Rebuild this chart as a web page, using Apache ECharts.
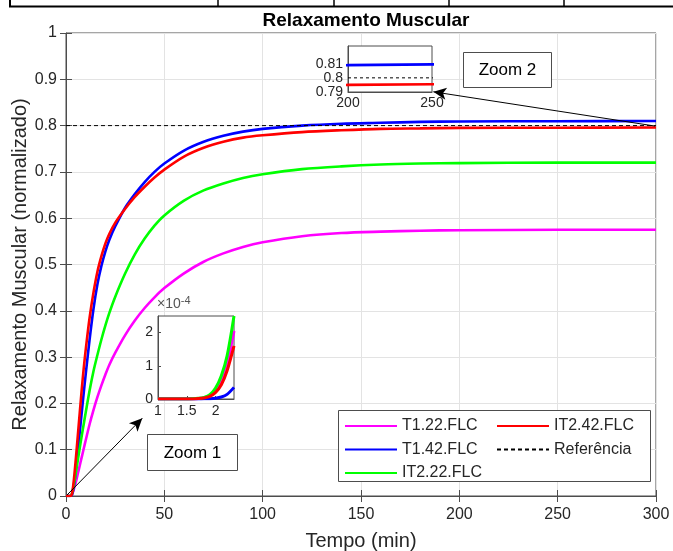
<!DOCTYPE html>
<html>
<head>
<meta charset="utf-8">
<script src="https://cdn.jsdelivr.net/npm/echarts@6/dist/echarts.min.js"></script>
<style>html,body{margin:0;padding:0;background:#fff}#c{width:673px;height:551px}</style>
</head>
<body>
<div id="c"></div>
<script>
// ---- data ----
const tMain = [0,1,2,3,4,5,6,7,8,9,10,12,14,16,18,20,22,25,30,35,40,45,50,60,70,80,90,100,120,140,160,180,200,250,300];
const t122 = [0,0,0.000025,0.003,0.015,0.03,0.048,0.066,0.084,0.102,0.12,0.155,0.186,0.214,0.239,0.262,0.283,0.309,0.347,0.379,0.406,0.429,0.449,0.481,0.506,0.524,0.538,0.548,0.561,0.568,0.571,0.573,0.574,0.575,0.575];
const t142 = [0,0,0.0000025,0.002,0.02,0.055,0.095,0.138,0.18,0.222,0.262,0.338,0.405,0.458,0.497,0.528,0.553,0.582,0.622,0.652,0.678,0.7,0.718,0.746,0.765,0.778,0.787,0.793,0.8,0.804,0.806,0.808,0.809,0.8095,0.81];
const it222 = [0,0,0.000033,0.005,0.025,0.05,0.077,0.104,0.13,0.155,0.18,0.228,0.27,0.305,0.338,0.368,0.395,0.43,0.48,0.522,0.556,0.584,0.606,0.638,0.66,0.675,0.687,0.695,0.706,0.712,0.716,0.718,0.719,0.72,0.72];
const it242 = [0,0,0.00002,0.004,0.035,0.08,0.13,0.18,0.23,0.275,0.315,0.385,0.44,0.485,0.518,0.545,0.566,0.59,0.62,0.646,0.668,0.688,0.705,0.733,0.752,0.765,0.774,0.779,0.786,0.79,0.793,0.794,0.795,0.7955,0.796];
const refX = [0,300];
const refY = [0.8,0.8];
// zoom 1 inset (values in units of 1e-4)
const tZoom = [1,1.2,1.4,1.5,1.6,1.7,1.8,1.9,2.0,2.1,2.2,2.32];
const z122 = [0,0,0,0.001,0.004,0.015,0.04,0.1,0.25,0.55,1.05,2.05];
const z142 = [0,0,0,0,0.0005,0.002,0.005,0.01,0.025,0.06,0.14,0.35];
const z222 = [0,0,0,0.002,0.006,0.02,0.05,0.13,0.33,0.7,1.3,2.5];
const z242 = [0,0,0,0.001,0.003,0.012,0.032,0.08,0.2,0.43,0.85,1.6];
const names = ['T1.22.FLC','T1.42.FLC','IT2.22.FLC','IT2.42.FLC','Referência'];
const colors = ['#FF00FF','#0000FF','#00FF00','#FF0000','#000000'];

const pair = (xs, ys) => xs.map((x,i)=>[x,ys[i]]);
const FONT = 'Liberation Sans, Arial, sans-serif';
const TXT = '#262626';
const AX = '#4d4d4d';
const GRIDC = '#e3e3e3';

const chart = echarts.init(document.getElementById('c'));

function mainSeries(i, data) {
  return {
    name: names[i], type: 'line', xAxisIndex: 0, yAxisIndex: 0,
    data: data, symbol: 'none', smooth: 0.3, z: 2,
    lineStyle: {color: colors[i], width: 2.6}, itemStyle: {color: colors[i]}
  };
}
function legendCfg(data, left) {
  return {data: data, orient: 'vertical', left: left, top: 418, padding: 0,
    itemWidth: 52, itemHeight: 14, itemGap: 7.5, z: 20, selectedMode: false,
    itemStyle: {opacity: 0},
    textStyle: {fontFamily: FONT, fontSize: 16, color: TXT}};
}

const option = {
  animation: false,
  backgroundColor: '#fff',
  textStyle: {fontFamily: FONT},
  title: {
    text: 'Relaxamento Muscular', left: 361, top: 6, textAlign: 'center',
    textStyle: {fontFamily: FONT, fontSize: 19, fontWeight: 'bold', color: '#000'}
  },
  grid: [
    {left: 66, top: 33, width: 590, height: 463, show: true, borderColor: AX, borderWidth: 1, backgroundColor: '#fff', z: 0, outerBoundsMode: 'none', containLabel: false},
    {left: 158, top: 316, width: 76, height: 83, show: true, borderColor: AX, borderWidth: 1, backgroundColor: '#fff', z: 5, outerBoundsMode: 'none', containLabel: false},
    {left: 348, top: 46, width: 84, height: 46, show: true, borderColor: AX, borderWidth: 1, backgroundColor: '#fff', z: 5, outerBoundsMode: 'none', containLabel: false}
  ],
  xAxis: [
    {type: 'value', gridIndex: 0, min: 0, max: 300, interval: 50, position: 'bottom',
     name: 'Tempo (min)', nameLocation: 'middle', nameGap: 35, nameMoveOverlap: false,
     nameTextStyle: {fontFamily: FONT, fontSize: 20, color: TXT},
     axisLine: {show: true, onZero: false, lineStyle: {color: AX}},
     axisTick: {show: true, inside: true, length: 6, lineStyle: {color: AX}},
     axisLabel: {fontFamily: FONT, fontSize: 16, color: TXT, margin: 11},
     splitLine: {show: true, lineStyle: {color: GRIDC}}},
    {type: 'value', gridIndex: 0, min: 0, max: 300, interval: 50, position: 'top',
     axisLine: {show: false}, axisTick: {show: true, inside: true, length: 6, lineStyle: {color: AX}},
     axisLabel: {show: false}, splitLine: {show: false}},
    {type: 'value', gridIndex: 1, min: 1, max: 2.32, z: 6,
     axisLine: {show: true, onZero: false, lineStyle: {color: AX}},
     axisTick: {show: true, inside: true, length: 3, customValues: [1,1.5,2], lineStyle: {color: AX}},
     axisLabel: {fontFamily: FONT, fontSize: 14, color: TXT, margin: 5, customValues: [1,1.5,2]},
     splitLine: {show: false}},
    {type: 'value', gridIndex: 2, min: 200, max: 250, z: 6,
     axisLine: {show: true, onZero: false, lineStyle: {color: AX}},
     axisTick: {show: false},
     axisLabel: {fontFamily: FONT, fontSize: 14, color: TXT, margin: 4, customValues: [200,250]},
     splitLine: {show: false}}
  ],
  yAxis: [
    {type: 'value', gridIndex: 0, min: 0, max: 1, interval: 0.1, position: 'left',
     name: 'Relaxamento Muscular (normalizado)', nameLocation: 'middle', nameGap: 36, nameMoveOverlap: false,
     nameTextStyle: {fontFamily: FONT, fontSize: 20, color: TXT},
     axisLine: {show: true, onZero: false, lineStyle: {color: AX}},
     axisTick: {show: true, inside: true, length: 6, lineStyle: {color: AX}},
     axisLabel: {fontFamily: FONT, fontSize: 16, color: TXT, margin: 9},
     splitLine: {show: true, lineStyle: {color: GRIDC}}},
    {type: 'value', gridIndex: 0, min: 0, max: 1, interval: 0.1, position: 'right',
     axisLine: {show: false}, axisTick: {show: true, inside: true, length: 6, lineStyle: {color: AX}},
     axisLabel: {show: false}, splitLine: {show: false}},
    {type: 'value', gridIndex: 1, min: 0, max: 2.5, z: 6,
     axisLine: {show: true, onZero: false, lineStyle: {color: AX}},
     axisTick: {show: true, inside: true, length: 3, customValues: [0,1,2], lineStyle: {color: AX}},
     axisLabel: {fontFamily: FONT, fontSize: 14, color: TXT, margin: 5, customValues: [0,1,2]},
     splitLine: {show: false}},
    {type: 'value', gridIndex: 2, min: 0.79, max: 0.8225, z: 6,
     axisLine: {show: true, onZero: false, lineStyle: {color: AX}},
     axisTick: {show: false},
     axisLabel: {fontFamily: FONT, fontSize: 14, color: TXT, margin: 5, customValues: [0.79,0.8,0.81],
       formatter: v => String(Math.round(v*100)/100)},
     splitLine: {show: false}}
  ],
  legend: [legendCfg(names.slice(0,3), 344), legendCfg(names.slice(3,5), 496)],
  graphic: {elements: [
    // partial table row at top of figure
    {type: 'line', shape: {x1: 9, y1: 6.5, x2: 673, y2: 6.5}, style: {stroke: '#000', lineWidth: 2}, z: 1},
    {type: 'line', shape: {x1: 10, y1: 0, x2: 10, y2: 7}, style: {stroke: '#000', lineWidth: 2}, z: 1},
    {type: 'line', shape: {x1: 218, y1: 0, x2: 218, y2: 7}, style: {stroke: '#000', lineWidth: 1.5}, z: 1},
    {type: 'line', shape: {x1: 334, y1: 0, x2: 334, y2: 7}, style: {stroke: '#000', lineWidth: 1.5}, z: 1},
    {type: 'line', shape: {x1: 449, y1: 0, x2: 449, y2: 7}, style: {stroke: '#000', lineWidth: 1.5}, z: 1},
    {type: 'line', shape: {x1: 564, y1: 0, x2: 564, y2: 7}, style: {stroke: '#000', lineWidth: 1.5}, z: 1},
    // legend box
    {type: 'rect', shape: {x: 338.5, y: 410.5, width: 312, height: 71}, style: {fill: '#fff', stroke: AX, lineWidth: 1}, z: 10},
    // Zoom text boxes
    {type: 'rect', shape: {x: 147.5, y: 434.5, width: 90, height: 36}, style: {fill: '#fff', stroke: AX, lineWidth: 1}, z: 10},
    {type: 'text', x: 192.5, y: 453, style: {text: 'Zoom 1', fill: '#000', fontFamily: FONT, fontSize: 17, align: 'center', verticalAlign: 'middle'}, z: 11},
    {type: 'rect', shape: {x: 463.5, y: 52.5, width: 88, height: 35}, style: {fill: '#fff', stroke: AX, lineWidth: 1}, z: 10},
    {type: 'text', x: 507.5, y: 70.5, style: {text: 'Zoom 2', fill: '#000', fontFamily: FONT, fontSize: 17, align: 'center', verticalAlign: 'middle'}, z: 11},
    // exponent label for inset 1
    {type: 'text', x: 157, y: 314, z: 11, style: {
      text: '{a|×10}{b|-4}', verticalAlign: 'bottom', align: 'left',
      rich: {a: {fontFamily: FONT, fontSize: 14, fill: '#555'}, b: {fontFamily: FONT, fontSize: 11, fill: '#555', verticalAlign: 'top', padding: [0,0,8,0]}}
    }}
  ]},
  series: [
    mainSeries(0, pair(tMain, t122)),
    mainSeries(1, pair(tMain, t142)),
    mainSeries(2, pair(tMain, it222)),
    mainSeries(3, pair(tMain, it242)),
    {name: names[4], type: 'line', xAxisIndex: 0, yAxisIndex: 0, data: pair(refX, refY), symbol: 'none', z: 2,
     lineStyle: {color: '#000', width: 1, type: [4,3]}, itemStyle: {color: '#000'},
     markLine: {silent: true, symbol: ['none','arrow'], symbolSize: [9, 13], label: {show: false},
       lineStyle: {color: '#000', width: 1, type: 'solid'},
       data: [
         [{coord: [0.5, 0.002]}, {coord: [38.8, 0.168]}],
         [{coord: [299.5, 0.799]}, {coord: [186.8, 0.873]}]
       ]}},
    // inset 1
    {name: names[0], type: 'line', xAxisIndex: 2, yAxisIndex: 2, data: pair(tZoom, z122), symbol: 'none', smooth: 0.3, z: 7,
     lineStyle: {color: colors[0], width: 3}, itemStyle: {color: colors[0]}},
    {name: names[1], type: 'line', xAxisIndex: 2, yAxisIndex: 2, data: pair(tZoom, z142), symbol: 'none', smooth: 0.3, z: 7,
     lineStyle: {color: colors[1], width: 3}, itemStyle: {color: colors[1]}},
    {name: names[2], type: 'line', xAxisIndex: 2, yAxisIndex: 2, data: pair(tZoom, z222), symbol: 'none', smooth: 0.3, z: 7,
     lineStyle: {color: colors[2], width: 3}, itemStyle: {color: colors[2]}},
    {name: names[3], type: 'line', xAxisIndex: 2, yAxisIndex: 2, data: pair(tZoom, z242), symbol: 'none', smooth: 0.3, z: 7,
     lineStyle: {color: colors[3], width: 3}, itemStyle: {color: colors[3]}},
    // inset 2
    {name: names[1], type: 'line', xAxisIndex: 3, yAxisIndex: 3, data: pair(tMain, t142), symbol: 'none', z: 7, clip: true,
     lineStyle: {color: colors[1], width: 2.6}, itemStyle: {color: colors[1]}},
    {name: names[3], type: 'line', xAxisIndex: 3, yAxisIndex: 3, data: pair(tMain, it242), symbol: 'none', z: 7, clip: true,
     lineStyle: {color: colors[3], width: 2.6}, itemStyle: {color: colors[3]}},
    {name: names[4], type: 'line', xAxisIndex: 3, yAxisIndex: 3, data: pair(refX, refY), symbol: 'none', z: 7, clip: true,
     lineStyle: {color: '#000', width: 1, type: [3,3]}, itemStyle: {color: '#000'}}
  ]
};
chart.setOption(option);
</script>
</body>
</html>
